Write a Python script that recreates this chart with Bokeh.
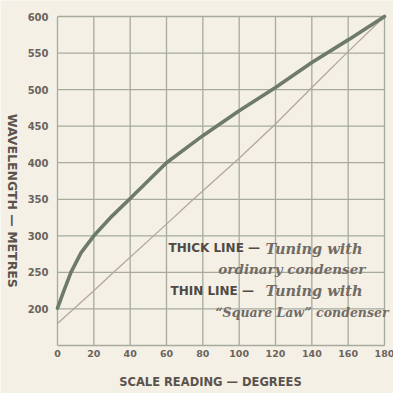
import math
from bokeh.plotting import figure
from bokeh.models import Range1d, Label
from bokeh.core.properties import value
from bokeh.embed import file_html
from bokeh.resources import INLINE

# ---- data ----
x_ticks = [0, 20, 40, 60, 80, 100, 120, 140, 160, 180]
x_tick_labels = ["0", "20", "40", "60", "80", "100", "120", "140", "160", "180"]
y_ticks = [200, 250, 300, 350, 400, 450, 500, 550, 600]
y_tick_labels = ["200", "250", "300", "350", "400", "450", "500", "550", "600"]
y_grid = [150, 200, 250, 300, 350, 400, 450, 500, 550, 600]

# Thick line: tuning with ordinary condenser
thick_deg = [0, 3.7, 7.4, 13, 20, 30, 40, 60, 80, 100, 120, 140, 160, 180]
thick_wl = [201, 226, 250, 277, 300, 327, 351, 400, 437, 471, 503, 537, 568, 600]

# Thin line: tuning with "Square Law" condenser
thin_deg = [0, 20, 30, 60, 73, 100, 120, 140, 160, 180]
thin_wl = [180, 225, 248, 316, 346, 406, 453, 503, 552, 600]

x_title = "SCALE READING \u2014 DEGREES"
y_title = "WAVELENGTH \u2014 METRES"

BG = "#f4f0e5"
GRID = "#a6ab9e"
INK = "#5a534d"
TICK_INK = "#6b635d"

# chart area: 0..180 deg and 150..600 m; the frame also covers the margins
X_MIN, X_MAX = 0, 180
Y_MIN, Y_MAX = 150, 600
W, H = 393, 393
L, R, T, B = 57, 9, 16, 48
sx = (W - L - R) / (X_MAX - X_MIN)
sy = (H - T - B) / (Y_MAX - Y_MIN)

p = figure(width=W, height=H, output_backend="svg", toolbar_location=None,
           x_range=Range1d(X_MIN - L / sx, X_MAX + R / sx),
           y_range=Range1d(Y_MIN - B / sy, Y_MAX + T / sy),
           x_axis_location=None, y_axis_location=None,
           min_border=0)
p.background_fill_color = BG
p.border_fill_color = BG
p.outline_line_color = None
p.grid.visible = False

# grid lines (the outer ones form the chart border)
p.segment(x0=x_ticks, y0=[Y_MIN] * len(x_ticks), x1=x_ticks, y1=[Y_MAX] * len(x_ticks),
          line_color=GRID, line_width=1.3)
p.segment(x0=[X_MIN] * len(y_grid), y0=y_grid, x1=[X_MAX] * len(y_grid), y1=y_grid,
          line_color=GRID, line_width=1.3)

# tick labels
p.text(x=[X_MIN] * len(y_ticks), y=y_ticks, text=y_tick_labels, x_offset=-9,
       text_align="right", text_baseline="middle", text_font=value("DejaVu Sans"),
       text_font_style="bold", text_font_size="10px", text_color=TICK_INK)
p.text(x=x_ticks, y=[Y_MIN] * len(x_ticks), text=x_tick_labels, y_offset=8,
       text_align="center", text_baseline="middle", text_font=value("DejaVu Sans"),
       text_font_style="bold", text_font_size="9.5px", text_color=TICK_INK)

# axis titles
p.add_layout(Label(x=84.2, y=Y_MIN - 36 / sy, text=x_title,
                   text_align="center", text_baseline="middle",
                   text_font="DejaVu Sans", text_font_style="bold",
                   text_font_size="11.5px", text_color=INK))
p.add_layout(Label(x=X_MIN - 45 / sx, y=348, text=y_title, angle=-math.pi / 2,
                   text_align="center", text_baseline="middle",
                   text_font="DejaVu Sans", text_font_style="bold",
                   text_font_size="12.5px", text_color=INK))

# curves
p.line(thin_deg, thin_wl, line_color="#b3a6a3", line_width=1.3)
p.line(thick_deg, thick_wl, line_color="#6e7b6a", line_width=3.6, line_cap="round")

# key text inside the chart
bold_kw = dict(text_font="DejaVu Sans", text_font_style="bold",
               text_font_size="12px", text_color="#4f4a45",
               text_baseline="middle", text_align="left")
ital_kw = dict(text_font="DejaVu Serif", text_font_style="bold italic",
               text_color="#716b65", text_baseline="middle", text_align="right")

p.add_layout(Label(x=61.1, y=283, text="THICK LINE \u2014", **bold_kw))
p.add_layout(Label(x=167.9, y=283, text="Tuning with", text_font_size="14.5px", **ital_kw))
p.add_layout(Label(x=169.5, y=255, text="ordinary condenser", text_font_size="13.5px", **ital_kw))
p.add_layout(Label(x=62.2, y=225, text="THIN LINE \u2014", **bold_kw))
p.add_layout(Label(x=167.9, y=225, text="Tuning with", text_font_size="14.5px", **ital_kw))
p.add_layout(Label(x=182.2, y=195, text="\u201cSquare Law\u201d condenser", text_font_size="12.5px", **ital_kw))

open("out.html", "w").write(file_html(p, INLINE))
